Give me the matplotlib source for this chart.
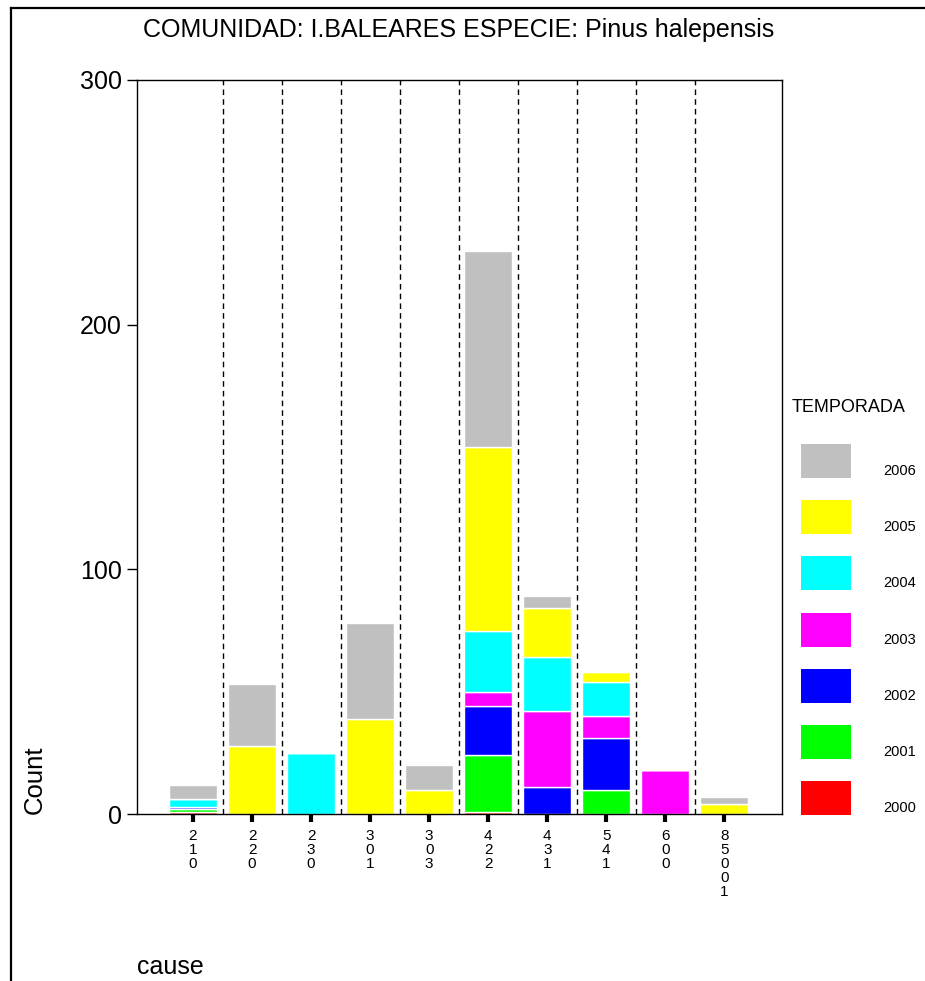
import matplotlib.pyplot as plt
import numpy as np
from matplotlib.lines import Line2D
from matplotlib.patches import Rectangle

# cause codes on the x axis
categories = ["210", "220", "230", "301", "303", "422", "431", "541", "600", "85001"]

# counts per season (TEMPORADA)
years = ["2000", "2001", "2002", "2003", "2004", "2005", "2006"]
y2000 = [1, 0, 0, 0, 0, 1, 0, 0, 0, 0]
y2001 = [1, 0, 0, 0, 0, 23, 0, 10, 0, 0]
y2002 = [1, 0, 0, 0, 0, 20, 11, 21, 0, 0]
y2003 = [0, 0, 0, 0, 0, 6, 31, 9, 18, 0]
y2004 = [3, 0, 25, 0, 0, 25, 22, 14, 0, 0]
y2005 = [0, 28, 0, 39, 10, 75, 20, 4, 0, 4]
y2006 = [6, 25, 0, 39, 10, 80, 5, 0, 0, 3]
series = [y2000, y2001, y2002, y2003, y2004, y2005, y2006]
colors = ["#FF0000", "#00FF00", "#0000FF", "#FF00FF", "#00FFFF", "#FFFF00", "#C0C0C0"]

font = "Liberation Sans"

fig = plt.figure(figsize=(9.25, 9.81), dpi=100)
ax = fig.add_axes([0.148, 0.1702, 0.697, 0.7483])

x = np.arange(len(categories))
bottom = np.zeros(len(categories))
for vals, col in zip(series, colors):
    vals = np.array(vals, dtype=float)
    ax.bar(x, vals, width=0.81, bottom=bottom, color=col,
           edgecolor="white", linewidth=1)
    bottom += vals

# dashed separators between causes
for sep in x[:-1] + 0.5:
    ax.plot([sep, sep], [0, 300], color="black", linestyle=(0, (4, 3)),
            linewidth=1, zorder=0)

ax.set_xlim(-0.95, 9.97)
ax.set_ylim(0, 300)
ax.set_yticks([0, 100, 200, 300])
ax.set_yticklabels(["0", "100", "200", "300"], fontsize=18, family=font)
ax.set_xticks(x)
ax.set_xticklabels(["\n".join(c) for c in categories], fontsize=11,
                   family=font, linespacing=1.0, va="top")
ax.tick_params(axis="x", length=6, width=3, pad=5)
ax.tick_params(axis="y", length=7, width=1, pad=4)
for s in ax.spines.values():
    s.set_linewidth(1)

fig.text(0.496, 0.969, "COMUNIDAD: I.BALEARES ESPECIE: Pinus halepensis",
         ha="center", va="center", fontsize=18, family=font)
fig.text(0.038, 0.205, "Count", rotation=90, ha="center", va="center",
         fontsize=18.5, family=font)
fig.text(0.148, 0.014, "cause", ha="left", va="center", fontsize=18, family=font)

# legend drawn by hand to mimic the original layout
fig.text(792 / 925, 1 - 408 / 981, "TEMPORADA", ha="left", va="center",
         fontsize=13, family=font)
for i, (yr, col) in enumerate(zip(years[::-1], colors[::-1])):
    top = 444 + i * 56.2
    fig.patches.append(Rectangle((801 / 925, 1 - (top + 34) / 981), 50 / 925, 34 / 981,
                                 transform=fig.transFigure, facecolor=col,
                                 edgecolor="none"))
    fig.text(883 / 925, 1 - (top + 27) / 981, yr, ha="left", va="center",
             fontsize=10.5, family=font)

# outer frame (left and top lines only)
fig.add_artist(Line2D([11 / 925, 11 / 925], [0, 1 - 8 / 981], color="black",
                      linewidth=1.6, transform=fig.transFigure))
fig.add_artist(Line2D([11 / 925, 1], [1 - 8 / 981, 1 - 8 / 981], color="black",
                      linewidth=1.6, transform=fig.transFigure))

fig.savefig("out.png", dpi=100)
